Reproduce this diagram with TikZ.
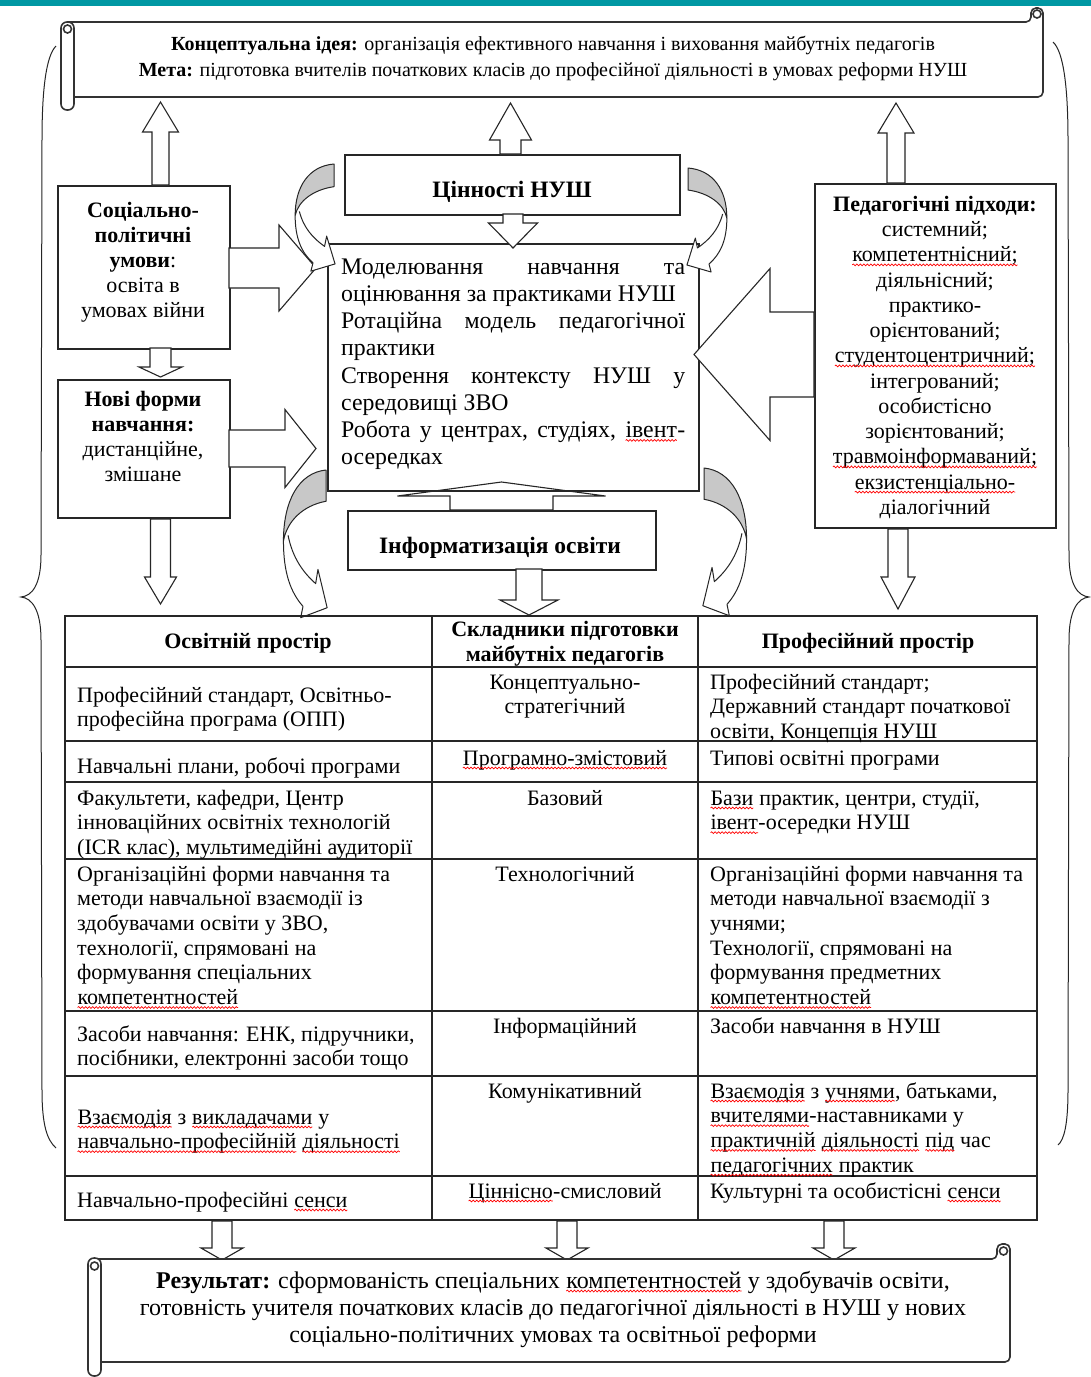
\documentclass[tikz,border=0pt]{standalone}
\usepackage{fontspec}
\setmainfont{Liberation Serif}
\usetikzlibrary{calc,decorations.pathmorphing}
\definecolor{barteal}{RGB}{0,152,163}
\definecolor{curvegray}{RGB}{200,200,200}
\newcommand\spell[1]{\tikz[baseline=(w.base)]{\node[inner sep=0pt,outer sep=0pt,align=left](w){#1};\draw[red,line width=0.7pt,decorate,decoration={snake,amplitude=0.9pt,segment length=3.5pt}] ([yshift=-3pt]w.base west) -- ([yshift=-3pt]w.base east);}}
\newcommand\jline[1]{\makebox[344pt][l]{#1}}
\newcommand\ftab{\fontsize{22}{24.7}\selectfont}
\newcommand\fsid{\fontsize{22}{25}\selectfont}
\newcommand\fped{\fontsize{22}{25.25}\selectfont}
\newcommand\fcen{\fontsize{23.8}{27.2}\selectfont}
\newcommand\fscr{\fontsize{20}{26}\selectfont}
\newcommand\fres{\fontsize{24}{27}\selectfont}
% vertical block arrow: xc, ystart, ybase, ytip, shaft half, head half
\newcommand\blockv[7][barrow]{\draw[#1] ({#2-#6},#3) -- ({#2-#6},#4) -- ({#2-#7},#4) -- (#2,#5) -- ({#2+#7},#4) -- ({#2+#6},#4) -- ({#2+#6},#3) -- cycle;}
% horizontal block arrow: yc, xstart, xbase, xtip, shaft half, head half
\newcommand\blockh[6]{\draw[barrow] (#2,{#1-#5}) -- (#3,{#1-#5}) -- (#3,{#1-#6}) -- (#4,#1) -- (#3,{#1+#6}) -- (#3,{#1+#5}) -- (#2,{#1+#5}) -- cycle;}
% curved arrow: origin x, y, xscale, yscale
\newcommand\curvarr[4]{%
\begin{scope}[shift={(#1,#2)}, xscale=#3, yscale=#4]
 \fill[white] (-37,50) .. controls (-37,72) and (-31,86) .. (-20,96) -- (-22,104) -- (1,97) -- (-7,70) -- (-9,80) .. controls (-20,72) and (-29,62) .. (-33,46) -- cycle;
 \draw[cline] (-37,50) .. controls (-37,72) and (-31,86) .. (-20,96) -- (-22,104) -- (1,97) -- (-7,70) -- (-9,80) .. controls (-20,72) and (-29,62) .. (-33,46);
 \draw[cline, fill=curvegray] (0,0) .. controls (-24,2) and (-37,22) .. (-37,50) .. controls (-34,36) and (-20,25) .. (0,22) -- cycle;
\end{scope}}
\begin{document}
\begin{tikzpicture}[x=1pt,y=-1pt,
  box/.style={draw=black!85, line width=1.5pt, fill=white, inner sep=0pt, anchor=north west},
  barrow/.style={draw=black!85, line width=1.1pt, fill=white, line join=miter},
  openarrow/.style={draw=black!85, line width=1.1pt, line join=miter},
  cline/.style={draw=black!85, line width=1pt, line join=round},
  scroll/.style={draw=black!80, line width=1.6pt},
  brace/.style={draw=black!85, line width=1pt},
  tline/.style={draw=black!85, line width=1.6pt},
  txt/.style={inner sep=0pt, font=\fsid, align=center, yshift=-2.5pt},
  tcell/.style={inner sep=0pt, font=\ftab, align=left, anchor=north west, yshift=-2.5pt},
  ccell/.style={inner sep=0pt, font=\ftab, align=center, anchor=north, yshift=-2.5pt},
]
\useasboundingbox (0,0) rectangle (1091,1377);
\fill[white] (0,0) rectangle (1091,1377);
\fill[barteal] (0,0) rectangle (1091,6);

% braces
\draw[brace] (56,46) .. controls (46,56) and (42,90) .. (42,140) -- (41,555) .. controls (41,585) and (32,596) .. (21,597) .. controls (32,598) and (41,610) .. (41,640) -- (42,1090) .. controls (42,1125) and (47,1140) .. (56,1148);
\draw[brace] (1053,42) .. controls (1064,52) and (1068,90) .. (1068,140) -- (1069,555) .. controls (1069,585) and (1078,596) .. (1089,597) .. controls (1078,598) and (1069,610) .. (1069,640) -- (1068,1090) .. controls (1068,1125) and (1064,1140) .. (1058,1145);

% top scroll
\draw[scroll, fill=white, rounded corners=5] (74,97) -- (1043,97) -- (1043,8) -- (1031,8) -- (1031,22) -- (68,22);
\draw[scroll, fill=white, rounded corners=6] (61,22) rectangle (74,110);
\draw[scroll] (67.5,29) circle (4);
\draw[scroll] (1037,14) circle (4);
\node[inner sep=0pt, font=\fscr, align=center] (idea) at (553,58) {\textbf{Концептуальна ідея:} організація ефективного навчання і виховання майбутніх педагогів\\\textbf{Мета:} підготовка вчителів початкових класів до професійної діяльності в умовах реформи НУШ};

% boxes
\node[box, minimum width=172pt, minimum height=163pt] (soc) at (57,185) {};
\node[box, minimum width=172pt, minimum height=138pt] (nov) at (57,379) {};
\node[box, minimum width=335pt, minimum height=60pt] (cin) at (344,154) {};
\node[box, minimum width=371pt, minimum height=247pt] (cen) at (327,243) {};
\node[box, minimum width=241pt, minimum height=344pt] (ped) at (814,183) {};
\node[box, minimum width=308pt, minimum height=59pt] (inf) at (347,510) {};

\node[txt, anchor=north] (socT) at (143,197) {\strut\textbf{Соціально-}\\\textbf{політичні}\\\textbf{умови}:\\освіта в\\умовах війни};
\node[txt, anchor=north] (novT) at (143,386) {\strut\textbf{Нові форми}\\\textbf{навчання:}\\дистанційне,\\змішане};
\node[txt, font=\fped, anchor=north] (pedT) at (935,191) {\strut\textbf{Педагогічні підходи:}\\системний;\\\spell{компетентнісний;}\\діяльнісний;\\практико-\\орієнтований;\\\spell{студентоцентричний;}\\інтегрований;\\особистісно\\зорієнтований;\\\spell{травмоінформаваний;}\\\spell{екзистенціально-}\\діалогічний};
\node[inner sep=0pt, font=\fontsize{23.5}{26}\selectfont\bfseries] (cinT) at (512,191.5) {Цінності НУШ};
\node[inner sep=0pt, font=\fontsize{23.5}{26}\selectfont\bfseries] (infT) at (500,548) {Інформатизація освіти};
\node[inner sep=0pt, font=\fcen, align=left, anchor=north west] (cenT) at (341,255) {\strut\jline{Моделювання\hfill навчання\hfill та}\\
оцінювання за практиками НУШ\\
\jline{Ротаційна\hfill модель\hfill педагогічної}\\
практики\\
\jline{Створення\hfill контексту\hfill НУШ\hfill у}\\
середовищі ЗВО\\
\jline{Робота\hfill у\hfill центрах,\hfill студіях,\hfill \spell{івент}-}\\
осередках};

% block arrows
\blockv{160.5}{185}{132}{102}{8.5}{18}
\blockv{510.5}{154}{140}{103}{10.5}{21}
\blockv{896}{183}{133}{103}{9}{18}
\blockv{160.5}{348}{367}{377}{10.5}{21.5}
\blockv{160.5}{519}{577}{604}{10}{16}
\blockv{898}{529}{577}{609}{10}{17}
\blockv{513}{214}{223}{248}{10}{24.5}
\blockv[openarrow]{501.5}{510}{496}{482}{51.5}{104}
\blockv{529}{569}{600}{615}{13}{29}
\blockh{268}{229}{279}{316}{20}{43}
\blockh{448.5}{229}{285}{316}{18.5}{39}
\blockh{354.5}{814}{770}{694}{42.5}{86}

% curved arrows
\curvarr{334}{164}{1.05}{1.03}
\curvarr{688}{168}{-1.05}{1}
\curvarr{326}{470}{1.15}{1.42}
\curvarr{704}{468}{-1.15}{1.42}

% table
\draw[tline] (65,616) rectangle (1037,1220);
\draw[tline] (432,616) -- (432,1220);
\draw[tline] (698,616) -- (698,1220);
\foreach \yy in {667,741,782,859,1011,1076,1176} \draw[tline] (65,\yy) -- (1037,\yy);

\node[inner sep=0pt, font=\ftab\bfseries] (h1) at (248,643) {Освітній простір};
\node[inner sep=0pt, font=\ftab\bfseries, align=center] (h2) at (565,644) {Складники підготовки\\майбутніх педагогів};
\node[inner sep=0pt, font=\ftab\bfseries] (h3) at (868,643) {Професійний простір};

\node[tcell] (a1) at (77,682) {\strut Професійний стандарт, Освітньо-\\професійна програма (ОПП)};
\node[tcell] (a2) at (77,753) {\strut Навчальні плани, робочі програми};
\node[tcell] (a3) at (77,785) {\strut Факультети, кафедри, Центр\\інноваційних освітніх технологій\\(ICR клас), мультимедійні аудиторії};
\node[tcell] (a4) at (77,861) {\strut Організаційні форми навчання та\\методи навчальної взаємодії із\\здобувачами освіти у ЗВО,\\технології, спрямовані на\\формування спеціальних\\\spell{компетентностей}};
\node[tcell] (a5) at (77,1021) {\strut Засоби навчання: ЕНК, підручники,\\посібники, електронні засоби тощо};
\node[tcell] (a6) at (77,1104) {\strut\spell{Взаємодія} з \spell{викладачами} у\\\spell{навчально-професійній} \spell{діяльності}};
\node[tcell] (a7) at (77,1187) {\strut Навчально-професійні \spell{сенси}};

\node[ccell] (b1) at (565,669) {\strut Концептуально-\\стратегічний};
\node[ccell] (b2) at (565,745) {\strut\spell{Програмно-змістовий}};
\node[ccell] (b3) at (565,785) {\strut Базовий};
\node[ccell] (b4) at (565,861) {\strut Технологічний};
\node[ccell] (b5) at (565,1013) {\strut Інформаційний};
\node[ccell] (b6) at (565,1078) {\strut Комунікативний};
\node[ccell] (b7) at (565,1178) {\strut\spell{Ціннісно}-смисловий};

\node[tcell] (c1) at (710,669) {\strut Професійний стандарт;\\Державний стандарт початкової\\освіти, Концепція НУШ};
\node[tcell] (c2) at (710,745) {\strut Типові освітні програми};
\node[tcell] (c3) at (710,785) {\strut\spell{Бази} практик, центри, студії,\\\spell{івент}-осередки НУШ};
\node[tcell] (c4) at (710,861) {\strut Організаційні форми навчання та\\методи навчальної взаємодії з\\учнями;\\Технології, спрямовані на\\формування предметних\\\spell{компетентностей}};
\node[tcell] (c5) at (710,1013) {\strut Засоби навчання в НУШ};
\node[tcell] (c6) at (710,1078) {\strut\spell{Взаємодія} з \spell{учнями}, батьками,\\\spell{вчителями}-наставниками у\\\spell{практичній} \spell{діяльності} \spell{під} час\\\spell{педагогічних} практик};
\node[tcell] (c7) at (710,1178) {\strut Культурні та особистісні \spell{сенси}};

% arrows to result
\blockv{222}{1221}{1248}{1260}{10}{21}
\blockv{567}{1221}{1248}{1260}{10}{21}
\blockv{834}{1221}{1248}{1260}{10}{21}

% result scroll
\draw[scroll, fill=white, rounded corners=5] (101,1362) -- (1010,1362) -- (1010,1244) -- (997,1244) -- (997,1259) -- (95,1259);
\draw[scroll, fill=white, rounded corners=6] (88,1258) rectangle (101,1376);
\draw[scroll] (94.5,1266) circle (4);
\draw[scroll] (1003.5,1251) circle (4);
\node[inner sep=0pt, font=\fres, align=center] (res) at (553,1309) {\textbf{Результат:} сформованість спеціальних \spell{компетентностей} у здобувачів освіти,\\готовність учителя початкових класів до педагогічної діяльності в НУШ у нових\\соціально-політичних умовах та освітньої реформи};
\end{tikzpicture}
\end{document}
